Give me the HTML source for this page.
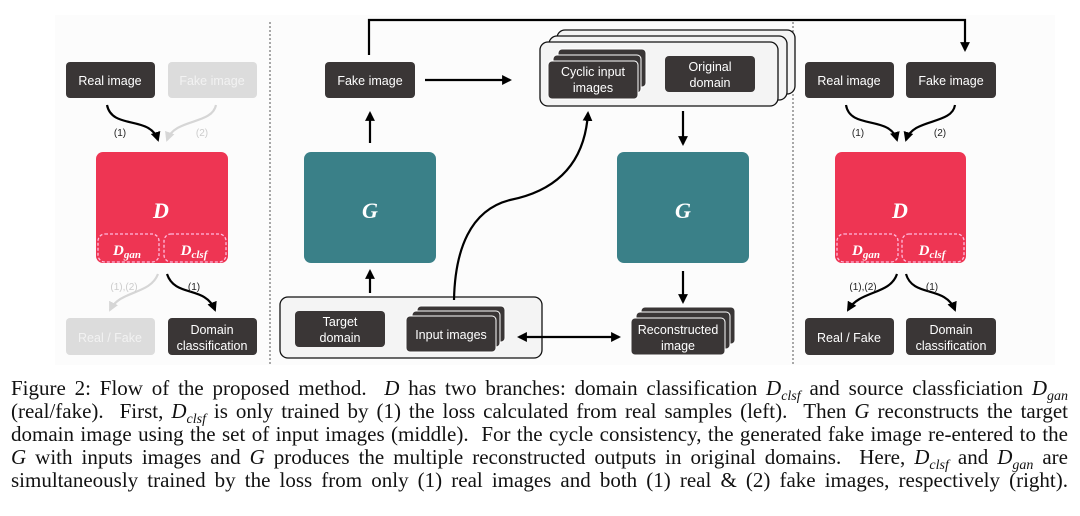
<!DOCTYPE html>
<html><head><meta charset="utf-8"><style>
body{margin:0;background:#fff;width:1080px;height:516px;overflow:hidden;position:relative;font-family:"Liberation Sans",sans-serif}
svg{position:absolute;left:0;top:0}
.cap{position:absolute;left:11px;top:377px;width:1057px;font-family:"Liberation Serif",serif;font-size:21px;color:#111}
.cap div{height:23px;line-height:23px;text-align:justify;text-align-last:justify;white-space:nowrap}
.cap i{font-style:italic}
sub{font-size:14px;line-height:0}
</style></head><body>
<svg width="1080" height="370" viewBox="0 0 1080 370" font-family="Liberation Sans, sans-serif">
<defs>
<marker id="ah" viewBox="0 0 10 10" refX="8" refY="5" markerWidth="4.5" markerHeight="4.5" orient="auto-start-reverse"><path d="M0,0 L10,5 L0,10 z" fill="#000"/></marker>
<marker id="ahg" viewBox="0 0 10 10" refX="8" refY="5" markerWidth="4.5" markerHeight="4.5" orient="auto"><path d="M0,0 L10,5 L0,10 z" fill="#d6d6d6"/></marker>
</defs>
<rect x="55" y="15" width="1000" height="350" fill="#fcfcfc"/>
<line x1="270" y1="22" x2="270" y2="366" stroke="#555" stroke-dasharray="2,2" stroke-width="1"/>
<line x1="793" y1="22" x2="793" y2="366" stroke="#555" stroke-dasharray="2,2" stroke-width="1"/>
<g font-size="12.5" text-anchor="middle" fill="#fff">
<rect x="66" y="62" width="89" height="36" rx="4" fill="#3a3636"/><text x="110" y="85">Real image</text>
<rect x="168" y="62" width="89" height="36" rx="4" fill="#dcdcdc"/><text x="212" y="85" fill="#f2f2f2">Fake image</text>
<rect x="96" y="152" width="132" height="111" rx="7" fill="#ee3553"/>
<text x="161" y="218" font-family="Liberation Serif,serif" font-style="italic" font-weight="bold" font-size="22">D</text>
<rect x="98" y="234" width="61" height="28" rx="7" fill="none" stroke="#fbd" stroke-dasharray="3,2" stroke-width="1.3"/>
<rect x="164" y="234" width="62" height="28" rx="7" fill="none" stroke="#fbd" stroke-dasharray="3,2" stroke-width="1.3"/>
<text x="127" y="255" font-family="Liberation Serif,serif" font-style="italic" font-weight="bold" font-size="15">D<tspan font-size="11" dy="3">gan</tspan></text>
<text x="194" y="255" font-family="Liberation Serif,serif" font-style="italic" font-weight="bold" font-size="15">D<tspan font-size="11" dy="3">clsf</tspan></text>
<rect x="66" y="318" width="89" height="37" rx="4" fill="#dcdcdc"/><text x="110" y="342" fill="#f2f2f2">Real / Fake</text>
<rect x="168" y="318" width="89" height="37" rx="4" fill="#3a3636"/><text x="212" y="334">Domain</text><text x="212" y="350">classification</text>
<rect x="325" y="62" width="90" height="36" rx="4" fill="#3a3636"/><text x="370" y="85">Fake image</text>
<rect x="304" y="152" width="132" height="111" rx="7" fill="#3a8088"/>
<text x="370" y="218" font-family="Liberation Serif,serif" font-style="italic" font-weight="bold" font-size="22">G</text>
<rect x="280" y="297" width="262" height="61" rx="8" fill="#f4f4f4" stroke="#111" stroke-width="1.3"/>
<rect x="295" y="311" width="90" height="36" rx="4" fill="#3a3636"/><text x="340" y="326">Target</text><text x="340" y="342">domain</text>
<rect x="417" y="306" width="88" height="36" rx="4" fill="#3a3636" stroke="#fff"/>
<rect x="412" y="311" width="88" height="36" rx="4" fill="#3a3636" stroke="#fff"/>
<rect x="406" y="316" width="90" height="36" rx="4" fill="#3a3636" stroke="#fff"/><text x="451" y="339">Input images</text>
<rect x="557" y="30" width="238" height="64" rx="8" fill="#f4f4f4" stroke="#111" stroke-width="1.3"/>
<rect x="549" y="36" width="238" height="64" rx="8" fill="#f4f4f4" stroke="#111" stroke-width="1.3"/>
<rect x="540" y="42" width="238" height="64" rx="8" fill="#f4f4f4" stroke="#111" stroke-width="1.3"/>
<rect x="558" y="49" width="88" height="38" rx="4" fill="#3a3636" stroke="#fff"/>
<rect x="553" y="55" width="88" height="38" rx="4" fill="#3a3636" stroke="#fff"/>
<rect x="548" y="61" width="90" height="38" rx="4" fill="#3a3636" stroke="#fff"/><text x="593" y="76">Cyclic input</text><text x="593" y="92">images</text>
<rect x="665" y="56" width="90" height="36" rx="4" fill="#3a3636"/><text x="710" y="71">Original</text><text x="710" y="87">domain</text>
<rect x="617" y="152" width="132" height="111" rx="7" fill="#3a8088"/>
<text x="683" y="218" font-family="Liberation Serif,serif" font-style="italic" font-weight="bold" font-size="22">G</text>
<rect x="641" y="307" width="94" height="37" rx="4" fill="#3a3636" stroke="#fff"/>
<rect x="636" y="312" width="94" height="37" rx="4" fill="#3a3636" stroke="#fff"/>
<rect x="631" y="318" width="94" height="37" rx="4" fill="#3a3636" stroke="#fff"/><text x="678" y="334">Reconstructed</text><text x="678" y="350">image</text>
<rect x="805" y="62" width="89" height="36" rx="4" fill="#3a3636"/><text x="849" y="85">Real image</text>
<rect x="906" y="62" width="90" height="36" rx="4" fill="#3a3636"/><text x="951" y="85">Fake image</text>
<rect x="835" y="152" width="131" height="111" rx="7" fill="#ee3553"/>
<text x="900" y="218" font-family="Liberation Serif,serif" font-style="italic" font-weight="bold" font-size="22">D</text>
<rect x="837" y="234" width="61" height="28" rx="7" fill="none" stroke="#fbd" stroke-dasharray="3,2" stroke-width="1.3"/>
<rect x="902" y="234" width="62" height="28" rx="7" fill="none" stroke="#fbd" stroke-dasharray="3,2" stroke-width="1.3"/>
<text x="866" y="255" font-family="Liberation Serif,serif" font-style="italic" font-weight="bold" font-size="15">D<tspan font-size="11" dy="3">gan</tspan></text>
<text x="932" y="255" font-family="Liberation Serif,serif" font-style="italic" font-weight="bold" font-size="15">D<tspan font-size="11" dy="3">clsf</tspan></text>
<rect x="805" y="318" width="89" height="37" rx="4" fill="#3a3636"/><text x="849" y="342">Real / Fake</text>
<rect x="906" y="318" width="90" height="37" rx="4" fill="#3a3636"/><text x="951" y="334">Domain</text><text x="951" y="350">classification</text>
</g>
<g fill="none" stroke="#000" stroke-width="2.2">
<path d="M107,105 C112,130 150,115 158,140" marker-end="url(#ah)"/>
<path d="M216,105 C212,125 175,118 167,140" stroke="#d6d6d6" marker-end="url(#ahg)"/>
<path d="M158,274 C150,295 120,290 110,310" stroke="#d6d6d6" marker-end="url(#ahg)"/>
<path d="M167,274 C175,298 205,285 215,310" marker-end="url(#ah)"/>
<path d="M370,143 V113" marker-end="url(#ah)"/>
<path d="M370,293 V271" marker-end="url(#ah)"/>
<path d="M369,55 V20 H965 V50" marker-end="url(#ah)"/>
<path d="M425,80 H510" marker-end="url(#ah)"/>
<path d="M683,111 V144" marker-end="url(#ah)"/>
<path d="M683,271 V302" marker-end="url(#ah)"/>
<path d="M519,337 H619" marker-start="url(#ah)" marker-end="url(#ah)"/>
<path d="M454,300 C455,250 470,210 510,200 C560,190 585,160 588,113" marker-end="url(#ah)"/>
<path d="M846,105 C850,130 890,115 897,140" marker-end="url(#ah)"/>
<path d="M955,105 C952,125 913,118 906,140" marker-end="url(#ah)"/>
<path d="M897,274 C890,295 860,290 848,310" marker-end="url(#ah)"/>
<path d="M906,274 C913,298 945,285 955,310" marker-end="url(#ah)"/>
</g>
<g font-size="10" text-anchor="middle" fill="#222">
<text x="120" y="136">(1)</text><text x="202" y="136" fill="#ccc">(2)</text>
<text x="124" y="290" fill="#ccc">(1),(2)</text><text x="194" y="290">(1)</text>
<text x="858" y="136">(1)</text><text x="940" y="136">(2)</text>
<text x="863" y="290">(1),(2)</text><text x="932" y="290">(1)</text>
</g>
</svg>
<div class="cap">
<div>Figure 2: Flow of the proposed method. &nbsp;<i>D</i> has two branches: domain classification <i>D<sub>clsf</sub></i> and source classficiation <i>D<sub>gan</sub></i></div>
<div>(real/fake). &nbsp;First, <i>D<sub>clsf</sub></i> is only trained by (1) the loss calculated from real samples (left). &nbsp;Then <i>G</i> reconstructs the target</div>
<div>domain image using the set of input images (middle). &nbsp;For the cycle consistency, the generated fake image re-entered to the</div>
<div><i>G</i> with inputs images and <i>G</i> produces the multiple reconstructed outputs in original domains. &nbsp;Here, <i>D<sub>clsf</sub></i> and <i>D<sub>gan</sub></i> are</div>
<div>simultaneously trained by the loss from only (1) real images and both (1) real &amp; (2) fake images, respectively (right).</div>
</div>
</body></html>
